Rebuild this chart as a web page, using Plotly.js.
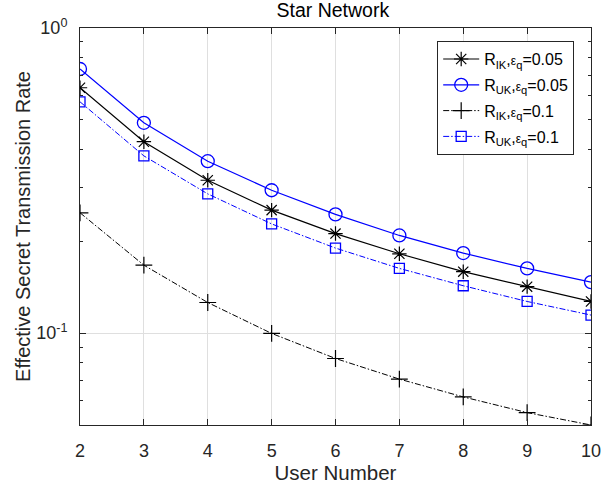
<!DOCTYPE html>
<html>
<head>
<meta charset="utf-8">
<script src="https://cdn.plot.ly/plotly-3.0.1.min.js"></script>
<style>html,body{margin:0;padding:0;background:#fff}</style>
</head>
<body>
<div id="chart" style="width:613px;height:487px"></div>
<script>
const userNumber = [2, 3, 4, 5, 6, 7, 8, 9, 10];
const rIK005 = [0.637, 0.424, 0.317, 0.253, 0.212, 0.182, 0.159, 0.142, 0.127];
const rUK005 = [0.734, 0.489, 0.366, 0.294, 0.245, 0.209, 0.183, 0.163, 0.147];
const rIK01  = [0.248, 0.167, 0.126, 0.0998, 0.0826, 0.0707, 0.0618, 0.0549, 0.0500];
const rUK01  = [0.573, 0.381, 0.286, 0.228, 0.190, 0.163, 0.143, 0.127, 0.1146];
const eps = '<span style="font-size:12px">ε</span>';
const seriesNames = [
  'R<sub>IK</sub>,' + eps + '<sub>q</sub>=0.05',
  'R<sub>UK</sub>,' + eps + '<sub>q</sub>=0.05',
  'R<sub>IK</sub>,' + eps + '<sub>q</sub>=0.1',
  'R<sub>UK</sub>,' + eps + '<sub>q</sub>=0.1'
];
const majorTicks = [0.1, 1];
const majorTickText = ['10<sup>-1</sup>', '10<sup>0</sup>'];
const minorTicks = [0.05, 0.06, 0.07, 0.08, 0.09, 0.2, 0.3, 0.4, 0.5, 0.6, 0.7, 0.8, 0.9];

const font = 'Liberation Sans, Arial, Helvetica, sans-serif';
const yr = [Math.log10(0.05), 0];
const dd = '6px,2px,1.5px,2px';

const traces = [
  {x: userNumber, y: rIK005, name: seriesNames[0], mode: 'lines+markers', legendgroup: 'a',
   line: {color: '#000', width: 1.2},
   marker: {symbol: 'asterisk-open', size: 12, color: '#000', line: {color: '#000', width: 1.2}}},
  {x: userNumber, y: rUK005, name: seriesNames[1], mode: 'lines+markers', legendgroup: 'b',
   line: {color: '#0000ff', width: 1.2},
   marker: {symbol: 'circle-open', size: 13, color: '#0000ff', line: {color: '#0000ff', width: 1.3}}},
  {x: userNumber, y: rIK01, name: seriesNames[2], mode: 'lines+markers', legendgroup: 'c',
   line: {color: '#000', width: 1, dash: dd},
   marker: {symbol: 'cross-thin-open', size: 12, color: '#000', line: {color: '#000', width: 1.2}}},
  {x: userNumber, y: rUK01, name: seriesNames[3], mode: 'lines+markers', legendgroup: 'd',
   line: {color: '#0000ff', width: 1, dash: dd},
   marker: {symbol: 'square-open', size: 10, color: '#0000ff', line: {color: '#0000ff', width: 1.3}}},
  {x: [2], y: [1], yaxis: 'y2', showlegend: false, mode: 'markers', marker: {opacity: 0}, hoverinfo: 'skip'}
];

const layout = {
  width: 613, height: 487,
  margin: {l: 80, r: 22, t: 28, b: 62},
  paper_bgcolor: '#fff', plot_bgcolor: '#fff',
  font: {family: font, size: 16, color: '#262626'},
  title: {text: 'Star Network', font: {family: font, size: 19.5, color: '#000'}, x: 0.543, xanchor: 'center', y: 0.993, yanchor: 'top'},
  xaxis: {
    range: [2, 10], tickvals: userNumber, ticks: 'inside', ticklen: 6, tickcolor: '#262626',
    showline: true, linecolor: '#262626', linewidth: 1, mirror: 'ticks',
    showgrid: true, gridcolor: '#dfdfdf', gridwidth: 1, zeroline: false,
    tickfont: {size: 18, color: '#262626'}, ticklabelstandoff: 9,
    title: {text: 'User Number', font: {size: 20.5, color: '#262626'}, standoff: 0}
  },
  yaxis: {
    type: 'log', range: yr, tickvals: majorTicks, ticktext: majorTickText,
    ticks: 'inside', ticklen: 6, tickcolor: '#262626',
    showline: true, linecolor: '#262626', linewidth: 1, mirror: 'ticks',
    showgrid: true, gridcolor: '#dfdfdf', gridwidth: 1, zeroline: false,
    tickfont: {size: 18, color: '#262626'}, ticklabelstandoff: 8,
    title: {text: 'Effective Secret Transmission Rate', font: {size: 20, color: '#262626'}, standoff: 0}
  },
  yaxis2: {
    type: 'log', range: yr, overlaying: 'y', side: 'left', tickvals: minorTicks,
    showticklabels: false, ticks: 'inside', ticklen: 3, tickcolor: '#262626',
    showline: false, mirror: 'ticks', showgrid: false, zeroline: false
  },
  legend: {
    x: 0.699, y: 0.967, xanchor: 'left', yanchor: 'top',
    bgcolor: '#fff', bordercolor: '#262626', borderwidth: 1,
    font: {family: font, size: 16, color: '#000'},
    tracegroupgap: 2, itemwidth: 36
  },
  showlegend: true
};

Plotly.newPlot('chart', traces, layout, {displayModeBar: false, staticPlot: true});
</script>
</body>
</html>
